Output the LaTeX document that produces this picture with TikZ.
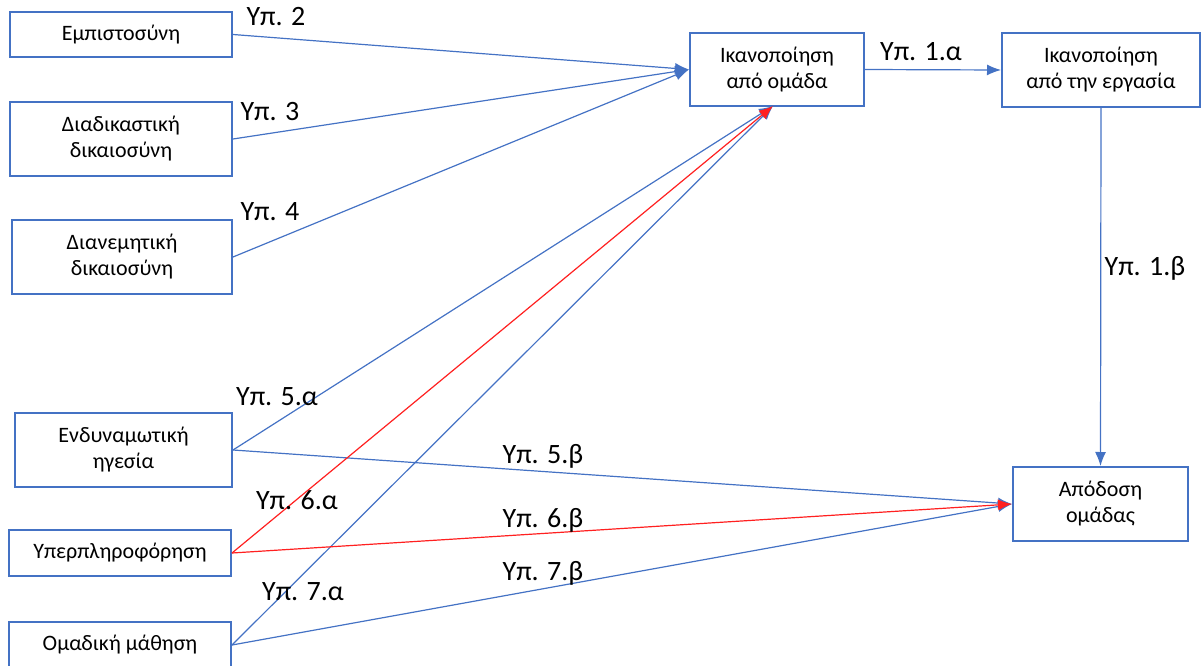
\documentclass[tikz,border=0pt]{standalone}
\usepackage{fontspec}
\setmainfont{Carlito}
\usetikzlibrary{arrows.meta}
\definecolor{bl}{HTML}{4472C4}
\definecolor{rd}{HTML}{FF2020}
\begin{document}
\begin{tikzpicture}[x=1pt,y=-1pt,
  box/.style={draw=bl,line width=2pt,inner sep=0pt,align=center,fill=white,
    font=\fontsize{22}{26}\selectfont},
  lbl/.style={font=\fontsize{28}{32}\selectfont,inner sep=0pt},
  link/.style={draw=bl,line width=1.2pt,-{Latex[length=14pt,width=11pt]}},
  redlink/.style={link,draw=rd}]
\useasboundingbox (0,0) rectangle (1203,666);
% source boxes
\node[box,minimum width=222pt,minimum height=45pt] (trust) at (121,34.5) {Εμπιστοσύνη};
\node[box,minimum width=222pt,minimum height=74pt] (proc) at (121,139) {Διαδικαστική\\δικαιοσύνη};
\node[box,minimum width=220pt,minimum height=74pt] (dist) at (122,257) {Διανεμητική\\δικαιοσύνη};
\node[box,minimum width=217pt,minimum height=74pt] (lead) at (123.5,450) {Ενδυναμωτική\\ηγεσία};
\node[box,minimum width=222pt,minimum height=46pt] (over) at (120,553) {Υπερπληροφόρηση};
\node[box,minimum width=222pt,minimum height=46pt] (learn) at (120,645) {Ομαδική μάθηση};
% target boxes
\node[box,minimum width=174pt,minimum height=73pt] (sgrp) at (777,69.5) {Ικανοποίηση\\από ομάδα};
\node[box,minimum width=198pt,minimum height=74pt] (sjob) at (1101,70) {Ικανοποίηση\\από την εργασία};
\node[box,minimum width=175pt,minimum height=74pt] (perf) at (1100.5,504) {Απόδοση\\ομάδας};
\coordinate (sgrpb) at (773,106);
% connectors
\draw[link] (trust.east) -- (sgrp.west);
\draw[link] (proc.east) -- (sgrp.west);
\draw[link] (dist.east) -- (sgrp.west);
\draw[link] (lead.east) -- (sgrpb);
\draw[link] (learn.east) -- (sgrpb);
\draw[link] (lead.east) -- (perf.west);
\draw[link] (learn.east) -- (perf.west);
\draw[redlink] (over.east) -- (sgrpb);
\draw[redlink] (over.east) -- (perf.west);
\draw[link] (sgrp.east) -- (sjob.west);
\draw[link] (sjob.south) -- (perf.north);
% labels
\node[lbl] (l2) at (276,17) {Υπ. 2};
\node[lbl] (l3) at (270,112) {Υπ. 3};
\node[lbl] (l4) at (270,212) {Υπ. 4};
\node[lbl] (l1a) at (921,52) {Υπ. 1.α};
\node[lbl] (l1b) at (1145,268) {Υπ. 1.β};
\node[lbl] (l5a) at (277,397) {Υπ. 5.α};
\node[lbl] (l5b) at (543,456) {Υπ. 5.β};
\node[lbl] (l6a) at (297,500) {Υπ. 6.α};
\node[lbl] (l6b) at (543,520) {Υπ. 6.β};
\node[lbl] (l7a) at (303,592) {Υπ. 7.α};
\node[lbl] (l7b) at (543,573) {Υπ. 7.β};
\end{tikzpicture}
\end{document}
